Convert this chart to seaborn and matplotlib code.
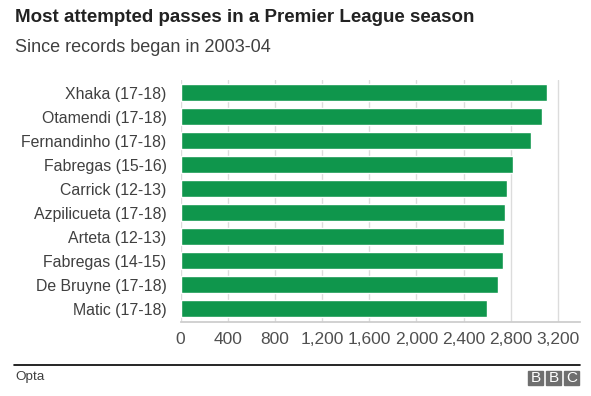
import matplotlib
matplotlib.use("Agg")
import matplotlib.pyplot as plt
import matplotlib.ticker as mticker
from matplotlib.patches import Rectangle
import seaborn as sns
import pandas as pd

# data
players = ["Xhaka (17-18)", "Otamendi (17-18)", "Fernandinho (17-18)", "Fabregas (15-16)",
           "Carrick (12-13)", "Azpilicueta (17-18)", "Arteta (12-13)", "Fabregas (14-15)",
           "De Bruyne (17-18)", "Matic (17-18)"]
passes = [3106, 3064, 2970, 2818, 2767, 2750, 2742, 2734, 2691, 2598]
xticks = [0, 400, 800, 1200, 1600, 2000, 2400, 2800, 3200]

df = pd.DataFrame({"player": players, "passes": passes})

sns.set_theme(style="white")
plt.rcParams['font.family'] = ['Liberation Sans', 'DejaVu Sans']

W, H = 591, 396
fig = plt.figure(figsize=(W / 100, H / 100), dpi=100)
ax = fig.add_axes([180.5 / W, 1 - 322 / H, (580 - 180.5) / W, (322 - 80) / H])

sns.barplot(data=df, x="passes", y="player", orient="h", color="#0f964c",
            saturation=1, width=0.7, ax=ax)

ax.set_xlim(0, 3386)
ax.set_ylim(9.55, -0.53)
ax.set_xticks(xticks)
ax.xaxis.set_major_formatter(mticker.FuncFormatter(lambda v, p: f"{int(v):,}"))
ax.grid(axis="x", color="#dcdcdc", linewidth=1)
ax.set_axisbelow(True)
ax.set_xlabel("")
ax.set_ylabel("")
for s in ["top", "right", "left"]:
    ax.spines[s].set_visible(False)
ax.spines["bottom"].set_color("#cccccc")
ax.tick_params(axis="x", length=4, color="#dcdcdc", labelsize=12.5, labelcolor="#505050", pad=3)
ax.tick_params(axis="y", length=0, labelsize=11.4, labelcolor="#404040", pad=10)

fig.text(15 / W, 1 - 22 / H, "Most attempted passes in a Premier League season",
         fontsize=13.5, fontweight="bold", color="#222222", ha="left", va="baseline")
fig.text(15 / W, 1 - 52 / H, "Since records began in 2003-04",
         fontsize=13, color="#404040", ha="left", va="baseline")

# footer
fig.add_artist(plt.Line2D([14 / W, 580 / W], [1 - 365 / H, 1 - 365 / H], color="black", linewidth=1.2))
fig.text(15 / W, 1 - 380 / H, "Opta", fontsize=9.7, color="#404040", ha="left", va="baseline")
for i, letter in enumerate("BBC"):
    x0 = 528 + i * 18
    fig.add_artist(Rectangle((x0 / W, 1 - 385 / H), 15 / W, 14 / H, color="#6e6e6e",
                             transform=fig.transFigure))
    fig.text((x0 + 7.5) / W, 1 - 378 / H, letter, fontsize=11,
             color="white", ha="center", va="center")

fig.savefig("out.png", dpi=100)
